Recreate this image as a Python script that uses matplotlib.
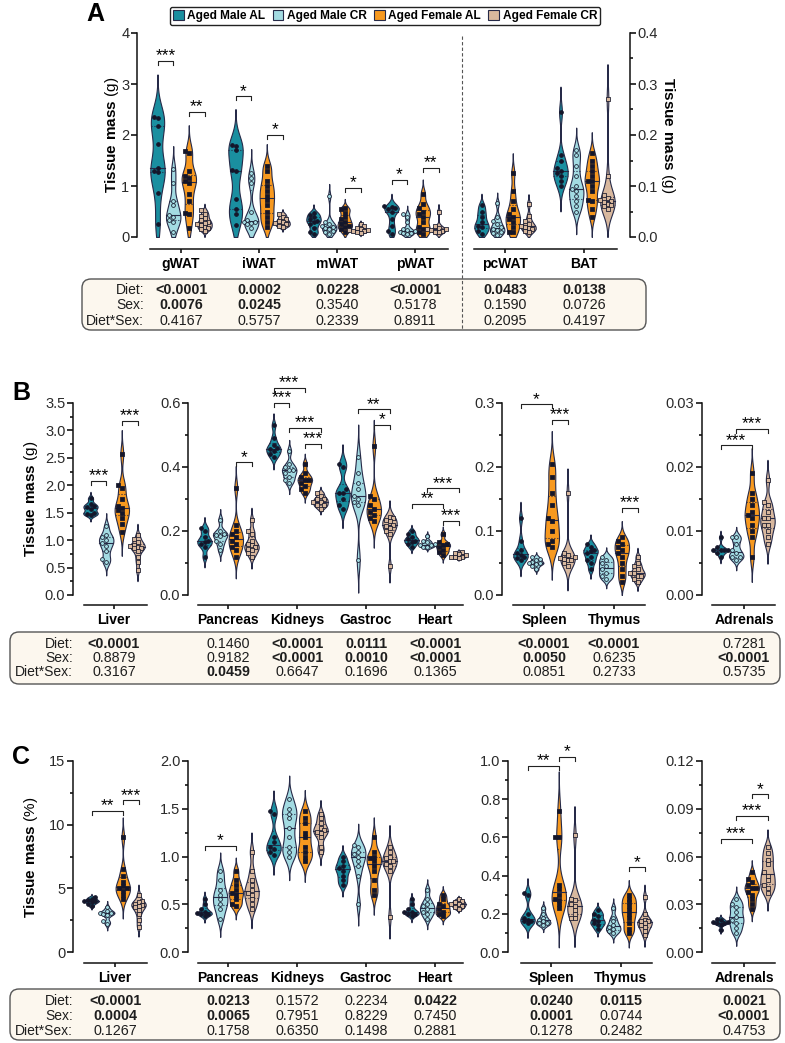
import numpy as np
import matplotlib.pyplot as plt
from matplotlib.patches import FancyBboxPatch, Patch
from matplotlib.ticker import MultipleLocator, FormatStrFormatter

plt.rcParams['font.family'] = ['Liberation Sans', 'DejaVu Sans']
plt.rcParams['mathtext.fontset'] = 'custom'
plt.rcParams['mathtext.rm'] = 'Liberation Sans'
plt.rcParams['mathtext.bf'] = 'Liberation Sans:bold'

groups = ['Aged Male AL', 'Aged Male CR', 'Aged Female AL', 'Aged Female CR']
fills = ['#1a8fa0', '#a3dbe2', '#f7991f', '#d8b89e']
edge = '#262a48'
dot = '#14162a'

# ---- panel A: tissue mass (g) ----
a_cats_left = ['gWAT', 'iWAT', 'mWAT', 'pWAT']
a_cats_right = ['pcWAT', 'BAT']
a_gwat = [[2.36, 2.34, 2.18, 1.83, 1.35, 1.30, 1.27, 0.86, 0.26],
          [1.33, 1.05, 0.70, 0.62, 0.44, 0.40, 0.33, 0.30, 0.10],
          [1.68, 1.64, 1.30, 1.20, 1.15, 1.10, 1.05, 0.85, 0.70, 0.47, 0.45, 0.17],
          [0.52, 0.46, 0.42, 0.37, 0.33, 0.30, 0.28, 0.25, 0.23, 0.20, 0.18, 0.15, 0.12]]
a_iwat = [[1.80, 1.78, 1.70, 1.32, 1.30, 0.75, 0.55, 0.45, 0.24],
          [1.25, 1.15, 1.05, 0.50, 0.33, 0.30, 0.30, 0.28, 0.25, 0.18],
          [1.40, 1.30, 1.10, 1.00, 0.90, 0.80, 0.72, 0.62, 0.50, 0.40, 0.30, 0.20],
          [0.45, 0.40, 0.36, 0.32, 0.30, 0.27, 0.25, 0.22, 0.20]]
a_mwat = [[0.48, 0.44, 0.40, 0.36, 0.32, 0.30, 0.25, 0.18, 0.10, 0.06],
          [0.80, 0.30, 0.25, 0.21, 0.20, 0.18, 0.15, 0.12, 0.10, 0.05],
          [0.57, 0.54, 0.48, 0.40, 0.35, 0.30, 0.26, 0.22, 0.20, 0.15, 0.10],
          [0.26, 0.22, 0.18, 0.16, 0.14, 0.13, 0.12, 0.11, 0.10, 0.08]]
a_pwat = [[0.60, 0.58, 0.56, 0.55, 0.50, 0.36, 0.22, 0.12, 0.05],
          [0.45, 0.40, 0.30, 0.16, 0.13, 0.11, 0.10, 0.08, 0.07, 0.05],
          [0.85, 0.65, 0.56, 0.50, 0.45, 0.40, 0.30, 0.20, 0.15, 0.10, 0.05],
          [0.50, 0.22, 0.18, 0.16, 0.15, 0.13, 0.12, 0.10, 0.09]]
a_pcwat = [[0.062, 0.050, 0.040, 0.030, 0.022, 0.020, 0.012, 0.006],
           [0.066, 0.040, 0.032, 0.025, 0.020, 0.016, 0.014, 0.010, 0.008, 0.004],
           [0.125, 0.090, 0.070, 0.055, 0.045, 0.040, 0.035, 0.030, 0.020, 0.010, 0.010],
           [0.065, 0.042, 0.032, 0.026, 0.022, 0.020, 0.018, 0.015, 0.012, 0.010]]
a_bat = [[0.245, 0.160, 0.150, 0.135, 0.130, 0.125, 0.120, 0.110, 0.100],
         [0.170, 0.160, 0.140, 0.120, 0.100, 0.095, 0.090, 0.080, 0.070, 0.060, 0.050],
         [0.165, 0.150, 0.140, 0.130, 0.120, 0.110, 0.110, 0.100, 0.090, 0.072, 0.070, 0.055, 0.040],
         [0.270, 0.120, 0.082, 0.076, 0.072, 0.070, 0.068, 0.065, 0.062, 0.060, 0.055]]

# ---- panel B: tissue mass (g) ----
b_liver = [[1.76, 1.66, 1.62, 1.60, 1.56, 1.50, 1.48, 1.46],
           [1.25, 1.10, 1.05, 1.00, 0.95, 0.90, 0.80, 0.66, 0.60],
           [2.57, 2.00, 1.95, 1.75, 1.62, 1.58, 1.55, 1.50, 1.40, 1.30, 1.15],
           [1.10, 1.02, 0.96, 0.92, 0.90, 0.88, 0.86, 0.85, 0.80, 0.70, 0.60, 0.45]]
b_pancreas = [[0.21, 0.20, 0.18, 0.17, 0.165, 0.16, 0.15, 0.12],
              [0.235, 0.20, 0.19, 0.188, 0.185, 0.17, 0.16, 0.14],
              [0.335, 0.22, 0.20, 0.19, 0.18, 0.17, 0.16, 0.15, 0.14, 0.12],
              [0.235, 0.20, 0.19, 0.17, 0.16, 0.155, 0.15, 0.145, 0.14, 0.13, 0.12]]
b_kidneys = [[0.53, 0.49, 0.47, 0.46, 0.455, 0.45, 0.44, 0.43],
             [0.45, 0.41, 0.40, 0.39, 0.39, 0.38, 0.37, 0.36, 0.35],
             [0.41, 0.38, 0.37, 0.36, 0.36, 0.35, 0.34, 0.33, 0.32],
             [0.32, 0.31, 0.30, 0.30, 0.29, 0.29, 0.28, 0.28, 0.27]]
b_gastroc = [[0.41, 0.40, 0.33, 0.32, 0.32, 0.30, 0.28, 0.27],
             [0.43, 0.38, 0.35, 0.33, 0.31, 0.30, 0.29, 0.28, 0.11],
             [0.465, 0.31, 0.30, 0.28, 0.27, 0.26, 0.25, 0.24, 0.23],
             [0.245, 0.24, 0.235, 0.23, 0.22, 0.215, 0.21, 0.20, 0.19, 0.09]]
b_heart = [[0.20, 0.19, 0.18, 0.175, 0.17, 0.165, 0.16, 0.15],
           [0.185, 0.17, 0.165, 0.16, 0.155, 0.155, 0.15, 0.15],
           [0.19, 0.165, 0.16, 0.155, 0.15, 0.14, 0.135, 0.125],
           [0.135, 0.13, 0.127, 0.125, 0.12, 0.12, 0.118, 0.115]]
b_spleen = [[0.12, 0.085, 0.07, 0.065, 0.062, 0.06, 0.058, 0.055],
            [0.06, 0.056, 0.055, 0.052, 0.05, 0.05, 0.048, 0.045, 0.04],
            [0.205, 0.185, 0.16, 0.14, 0.12, 0.115, 0.10, 0.085, 0.08, 0.075],
            [0.16, 0.065, 0.062, 0.06, 0.058, 0.057, 0.055, 0.055, 0.05, 0.045]]
b_thymus = [[0.08, 0.075, 0.07, 0.068, 0.065, 0.06, 0.055, 0.05, 0.04],
            [0.06, 0.055, 0.05, 0.045, 0.04, 0.035, 0.03, 0.025],
            [0.09, 0.085, 0.08, 0.075, 0.07, 0.065, 0.06, 0.05, 0.04, 0.03, 0.02],
            [0.06, 0.05, 0.045, 0.04, 0.035, 0.035, 0.03, 0.03, 0.025, 0.02]]
b_adrenals = [[0.009, 0.0075, 0.007, 0.007, 0.007, 0.007, 0.0065, 0.006],
              [0.009, 0.009, 0.008, 0.007, 0.0065, 0.006, 0.006, 0.0055],
              [0.019, 0.016, 0.015, 0.014, 0.013, 0.0125, 0.012, 0.011, 0.010, 0.009, 0.006],
              [0.018, 0.0145, 0.014, 0.013, 0.012, 0.012, 0.011, 0.011, 0.010, 0.009, 0.008]]

# ---- panel C: tissue mass (% body weight) ----
c_liver = [[4.3, 4.2, 4.1, 4.0, 4.0, 3.9, 3.8, 3.6],
           [3.5, 3.2, 3.1, 3.1, 3.0, 2.9, 2.4, 2.2],
           [9.0, 6.5, 6.0, 5.5, 5.2, 5.0, 5.0, 4.8, 4.5, 4.2],
           [4.5, 4.0, 3.9, 3.8, 3.7, 3.6, 3.5, 3.3, 3.0, 2.5, 2.0]]
c_pancreas = [[0.56, 0.50, 0.45, 0.42, 0.41, 0.40, 0.40, 0.38],
              [0.85, 0.75, 0.65, 0.60, 0.55, 0.50, 0.45, 0.35],
              [0.85, 0.75, 0.70, 0.65, 0.62, 0.60, 0.55, 0.50, 0.48],
              [1.05, 0.85, 0.75, 0.70, 0.65, 0.62, 0.60, 0.55, 0.50, 0.45]]
c_kidneys = [[1.48, 1.45, 1.20, 1.15, 1.10, 1.08, 1.05, 1.02],
             [1.60, 1.50, 1.45, 1.40, 1.30, 1.20, 1.10, 1.05, 1.00],
             [1.48, 1.40, 1.35, 1.25, 1.20, 1.10, 1.05, 1.00, 0.95],
             [1.45, 1.40, 1.35, 1.30, 1.28, 1.26, 1.25, 1.20, 1.10, 1.05]]
c_gastroc = [[1.00, 0.95, 0.90, 0.88, 0.85, 0.80, 0.75, 0.70],
             [1.12, 1.10, 1.05, 1.03, 1.00, 0.95, 0.90, 0.80, 0.50],
             [1.20, 1.05, 1.00, 0.98, 0.95, 0.90, 0.85, 0.75, 0.65, 0.60],
             [1.10, 1.05, 1.00, 0.98, 0.95, 0.95, 0.92, 0.90, 0.85, 0.37]]
c_heart = [[0.55, 0.50, 0.45, 0.42, 0.42, 0.40, 0.40, 0.38],
           [0.65, 0.55, 0.50, 0.48, 0.45, 0.42, 0.40, 0.35],
           [0.60, 0.55, 0.50, 0.48, 0.45, 0.42, 0.40, 0.38],
           [0.55, 0.53, 0.52, 0.50, 0.50, 0.48, 0.47, 0.45]]
c_spleen = [[0.31, 0.30, 0.20, 0.18, 0.17, 0.16, 0.16, 0.15],
            [0.23, 0.20, 0.18, 0.17, 0.16, 0.15, 0.15, 0.14],
            [0.74, 0.60, 0.60, 0.35, 0.33, 0.30, 0.28, 0.27, 0.25, 0.23],
            [0.61, 0.28, 0.27, 0.25, 0.24, 0.22, 0.20, 0.18, 0.18]]
c_thymus = [[0.22, 0.20, 0.19, 0.17, 0.16, 0.15, 0.14, 0.12],
            [0.23, 0.18, 0.16, 0.14, 0.13, 0.12, 0.11, 0.10],
            [0.30, 0.28, 0.26, 0.24, 0.22, 0.20, 0.18, 0.15, 0.12, 0.10],
            [0.29, 0.20, 0.17, 0.16, 0.16, 0.15, 0.14, 0.13, 0.11, 0.09]]
c_adrenals = [[0.021, 0.020, 0.019, 0.019, 0.018, 0.018, 0.017, 0.014],
              [0.033, 0.030, 0.028, 0.025, 0.022, 0.020, 0.018, 0.015, 0.012],
              [0.050, 0.046, 0.044, 0.042, 0.040, 0.040, 0.038, 0.036, 0.033, 0.030, 0.027],
              [0.066, 0.062, 0.058, 0.055, 0.050, 0.048, 0.045, 0.042, 0.040, 0.037]]

# significance brackets: (category, group1, group2, height, stars)
a_sig = [(0, 0, 1, 3.45, '***'), (0, 2, 3, 2.45, '**'), (1, 0, 1, 2.76, '*'), (1, 2, 3, 2.0, '*'),
         (2, 2, 3, 0.96, '*'), (3, 0, 1, 1.12, '*'), (3, 2, 3, 1.35, '**')]
b_liver_sig = [(0, 0, 1, 2.08, '***'), (0, 2, 3, 3.17, '***')]
b_mid_sig = [(0, 2, 3, 0.415, '*'), (1, 0, 2, 0.648, '***'), (1, 0, 1, 0.60, '***'),
             (1, 1, 3, 0.522, '***'), (1, 2, 3, 0.473, '***'), (2, 1, 3, 0.58, '**'),
             (2, 2, 3, 0.532, '*'), (3, 1, 3, 0.333, '***'), (3, 0, 2, 0.284, '**'),
             (3, 2, 3, 0.232, '***')]
b_st_sig = [(0, 0, 2, 0.298, '*'), (0, 2, 3, 0.274, '***'), (1, 2, 3, 0.136, '***')]
b_adr_sig = [(0, 1, 3, 0.026, '***'), (0, 0, 2, 0.0234, '***')]
c_liver_sig = [(0, 0, 2, 11.1, '**'), (0, 2, 3, 11.9, '***')]
c_mid_sig = [(0, 0, 2, 1.11, '*')]
c_st_sig = [(0, 0, 2, 0.976, '**'), (0, 2, 3, 1.02, '*'), (1, 2, 3, 0.444, '*')]
c_adr_sig = [(0, 0, 2, 0.071, '***'), (0, 1, 3, 0.0856, '***'), (0, 2, 3, 0.099, '*')]

# two-way ANOVA p values
row_names = ['Diet', 'Sex', 'Diet*Sex']
a_p = [['<0.0001', '0.0002', '0.0228', '<0.0001', '0.0483', '0.0138'],
       ['0.0076', '0.0245', '0.3540', '0.5178', '0.1590', '0.0726'],
       ['0.4167', '0.5757', '0.2339', '0.8911', '0.2095', '0.4197']]
b_p = [['<0.0001', '0.1460', '<0.0001', '0.0111', '<0.0001', '<0.0001', '<0.0001', '0.7281'],
       ['0.8879', '0.9182', '<0.0001', '0.0010', '<0.0001', '0.0050', '0.6235', '<0.0001'],
       ['0.3167', '0.0459', '0.6647', '0.1696', '0.1365', '0.0851', '0.2733', '0.5735']]
c_p = [['<0.0001', '0.0213', '0.1572', '0.2234', '0.0422', '0.0240', '0.0115', '0.0021'],
       ['0.0004', '0.0065', '0.7951', '0.8229', '0.7450', '0.0001', '0.0744', '<0.0001'],
       ['0.1267', '0.1758', '0.6350', '0.1498', '0.2881', '0.1278', '0.2482', '0.4753']]

W, H = 785, 1043
fig = plt.figure(figsize=(W / 100, H / 100), dpi=100)
ov = fig.add_axes([0, 0, 1, 1])
ov.set_xlim(0, W)
ov.set_ylim(H, 0)
ov.axis('off')

offs_px = np.array([-23.5, -7.8, 7.8, 23.5])


def make_ax(left, right, top, bottom, cat0, step, ylim, major, minor, fmt, cats, spine,
            side='left', drop=8):
    ax = fig.add_axes([left / W, 1 - bottom / H, (right - left) / W, (bottom - top) / H])
    ax.patch.set_alpha(0)
    ax.set_xlim((left - cat0) / step, (right - cat0) / step)
    ax.set_ylim(*ylim)
    ax.spines['top'].set_visible(False)
    ax.spines['right' if side == 'left' else 'left'].set_visible(False)
    if side == 'right':
        ax.yaxis.tick_right()
    for s in ax.spines.values():
        s.set_linewidth(1.1)
        s.set_color('#111111')
    ax.spines['bottom'].set_position(('outward', drop))
    ax.spines['bottom'].set_bounds((spine[0] - cat0) / step, (spine[1] - cat0) / step)
    ax.yaxis.set_major_locator(MultipleLocator(major))
    if minor:
        ax.yaxis.set_minor_locator(MultipleLocator(minor))
    ax.yaxis.set_major_formatter(FormatStrFormatter(fmt))
    ax.tick_params(axis='y', which='major', length=4, width=1.1, labelsize=10.5, pad=1.5,
                   labelcolor='#2a2a2a')
    ax.tick_params(axis='y', which='minor', length=2.5, width=1.1)
    ax.set_xticks(range(len(cats)))
    ax.set_xticklabels(cats, fontweight='bold', fontsize=10)
    ax.tick_params(axis='x', length=3, width=1.1, pad=2.5)
    ppy = (bottom - top) / (ylim[1] - ylim[0])
    return ax, step, ppy


def swarm(ypx, d):
    xs = np.zeros(len(ypx))
    placed = []
    cands = [0.0] + [s * j * d for j in range(1, 6) for s in (-1, 1)]
    for i in np.argsort(ypx):
        for c in cands:
            if all(np.hypot(c - px, ypx[i] - py) >= d for px, py in placed):
                break
        placed.append((c, ypx[i]))
        xs[i] = c
    return xs


def violins(axinfo, cat_i, data):
    ax, step, ppy = axinfo
    for g, vals in enumerate(data):
        v = np.asarray(vals, float)
        x0 = cat_i + offs_px[g] / step
        hw = 7.2 / step
        bw = 0.6 * v.std(ddof=1) * len(v) ** -0.2
        yy = np.linspace(max(v.min() - 3 * bw, 0), v.max() + 3 * bw, 300)
        dens = np.exp(-0.5 * ((yy[:, None] - v[None, :]) / bw) ** 2).sum(1)
        wid = dens / dens.max() * hw
        ax.fill_betweenx(yy, x0 - wid, x0 + wid, facecolor=fills[g], edgecolor=edge,
                         lw=0.8, zorder=2)
        q1, med, q3 = np.percentile(v, [25, 50, 75])
        for q, ls in [(q1, ':'), (med, '-'), (q3, ':')]:
            w = np.interp(q, yy, wid)
            ax.plot([x0 - w, x0 + w], [q, q], color=edge, lw=0.8, ls=ls, zorder=3)
        xs = swarm(v * ppy, 3.8)
        marker = 'o' if g < 2 else 's'
        fc = dot if g % 2 == 0 else fills[g]
        ax.scatter(x0 + xs / step, v, s=7.5 if g < 2 else 6, marker=marker, facecolor=fc,
                   edgecolor=dot, linewidths=0.55, zorder=4)


def brackets(axinfo, sigs):
    ax, step, ppy = axinfo
    tick = 4 / ppy
    for cat_i, g1, g2, y, stars in sigs:
        x1 = cat_i + offs_px[g1] / step
        x2 = cat_i + offs_px[g2] / step
        ax.plot([x1, x1, x2, x2], [y - tick, y, y, y - tick], color='#222222', lw=0.8,
                clip_on=False, zorder=5)
        ax.annotate(stars, xy=((x1 + x2) / 2, y), xytext=(0, 0.4), textcoords='offset points',
                    ha='center', va='baseline', fontsize=12.5, annotation_clip=False)


def table(box, label_x, rows_y, cols_x, pvals):
    x0, y0, x1, y1 = box
    ov.add_patch(FancyBboxPatch((x0, y0), x1 - x0, y1 - y0,
                                boxstyle='round,pad=0,rounding_size=9',
                                facecolor='#fcf7ee', edgecolor='#555555', lw=1))
    for name, y, vals in zip(row_names, rows_y, pvals):
        ov.text(label_x, y, name + ':', ha='right', va='center', fontsize=10,
                color='#1e1e1e')
        for x, s in zip(cols_x, vals):
            bold = float(s.lstrip('<')) < 0.05
            ov.text(x, y, s, ha='center', va='center', fontsize=10.3, color='#1e1e1e',
                    fontweight='bold' if bold else 'normal')


def ylabel(x, y, unit, rot=90):
    ov.text(x, y, r'$\mathbf{Tissue\ mass}$ (' + unit + ')', rotation=rot,
            ha='center', va='center', fontsize=11)


# ---- panel A ----
axA1 = make_ax(137, 462, 33, 237, 181, 78, (0, 4), 1, None, '%d', a_cats_left, (150, 448),
               drop=8.6)
axA2 = make_ax(462, 630, 33, 237, 505, 79, (0, 0.4), 0.1, 0.05, '%.1f', a_cats_right, (474, 617),
               side='right', drop=8.6)
for i, d in enumerate([a_gwat, a_iwat, a_mwat, a_pwat]):
    violins(axA1, i, d)
for i, d in enumerate([a_pcwat, a_bat]):
    violins(axA2, i, d)
brackets(axA1, a_sig)
ov.plot([462, 462], [36, 330], ls=(0, (3, 2)), color='#555555', lw=0.8)
table((82, 279, 646, 330), 144, [290, 305, 321],
      [181 + 78 * i for i in range(4)] + [505, 584], a_p)
ylabel(112, 135, 'g')
ylabel(668, 135, 'g', rot=270)

# ---- panel B ----
mid_cats = ['Pancreas', 'Kidneys', 'Gastroc', 'Heart']
axB1 = make_ax(73, 160, 403, 595, 114, 68, (0, 3.5), 0.5, 0.25, '%.1f', ['Liver'], (84, 147), drop=7.2)
axB2 = make_ax(188, 475, 403, 595, 228, 69, (0, 0.6), 0.2, 0.1, '%.1f', mid_cats, (198, 463), drop=7.2)
axB3 = make_ax(502, 655, 403, 595, 544, 70, (0, 0.3), 0.1, 0.05, '%.1f', ['Spleen', 'Thymus'],
               (513, 645), drop=7.2)
axB4 = make_ax(702, 782, 403, 595, 744, 68, (0, 0.03), 0.01, 0.005, '%.2f', ['Adrenals'],
               (712, 775), drop=7.2)
violins(axB1, 0, b_liver)
for i, d in enumerate([b_pancreas, b_kidneys, b_gastroc, b_heart]):
    violins(axB2, i, d)
for i, d in enumerate([b_spleen, b_thymus]):
    violins(axB3, i, d)
violins(axB4, 0, b_adrenals)
for a, s in [(axB1, b_liver_sig), (axB2, b_mid_sig), (axB3, b_st_sig), (axB4, b_adr_sig)]:
    brackets(a, s)
table((10, 632, 780, 684), 73, [644, 658, 672],
      [114, 228, 297, 366, 435, 544, 614, 744], b_p)
ylabel(31, 499, 'g')

# ---- panel C ----
axC1 = make_ax(73, 160, 761, 952, 115, 68, (0, 15), 5, 2.5, '%d', ['Liver'], (84, 147), drop=8)
axC2 = make_ax(188, 475, 761, 952, 228, 69, (0, 2.0), 0.5, 0.25, '%.1f', mid_cats, (198, 463), drop=8)
axC3 = make_ax(508, 660, 761, 952, 551, 70, (0, 1.0), 0.2, 0.1, '%.1f', ['Spleen', 'Thymus'],
               (521, 652), drop=8)
axC4 = make_ax(702, 782, 761, 952, 744, 68, (0, 0.12), 0.03, 0.015, '%.2f', ['Adrenals'],
               (712, 775), drop=8)
violins(axC1, 0, c_liver)
for i, d in enumerate([c_pancreas, c_kidneys, c_gastroc, c_heart]):
    violins(axC2, i, d)
for i, d in enumerate([c_spleen, c_thymus]):
    violins(axC3, i, d)
violins(axC4, 0, c_adrenals)
for a, s in [(axC1, c_liver_sig), (axC2, c_mid_sig), (axC3, c_st_sig), (axC4, c_adr_sig)]:
    brackets(a, s)
table((10, 989, 780, 1040), 73, [1001, 1016, 1031],
      [115, 228, 297, 366, 435, 551, 621, 744], c_p)
ylabel(31, 857, '%')

# panel letters and legend
for letter, x, y in [('A', 95, 14), ('B', 21, 393), ('C', 21, 757)]:
    ov.text(x, y, letter, fontsize=18, fontweight='bold', ha='center', va='center')
handles = [Patch(facecolor=f, edgecolor=edge, lw=0.8) for f in fills]
leg = ov.legend(handles, groups, loc='center', bbox_to_anchor=(385, 16),
                bbox_transform=ov.transData, ncol=4, prop={'weight': 'bold', 'size': 8.6},
                handlelength=0.9, handleheight=0.9, handletextpad=0.3, columnspacing=0.6,
                borderpad=0.25, fancybox=True, framealpha=1, edgecolor='#222222')
leg.get_frame().set_linewidth(1)

fig.savefig('out.png', dpi=100)
